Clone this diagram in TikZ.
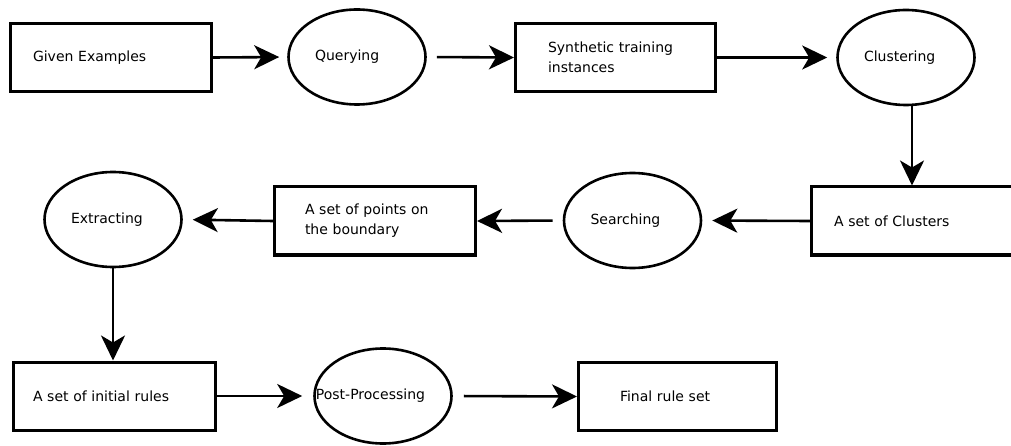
\documentclass[tikz,border=0pt]{standalone}
\usepackage{fontspec}
\setmainfont{DejaVu Sans}
\usetikzlibrary{shapes.geometric,arrows.meta}

\tikzset{
  procbox/.style={draw,rectangle,line width=3pt,minimum height=68pt,align=left,
    font=\fontsize{14}{20}\selectfont},
  stepell/.style={draw,ellipse,line width=2.6pt,minimum width=137pt,minimum height=95pt,
    inner sep=0pt,font=\fontsize{14}{20}\selectfont},
  flow/.style={-{Stealth[length=25pt,width=24pt,inset=7pt]},line width=2.6pt}
}

\begin{document}
\begin{tikzpicture}[x=1pt,y=-1pt]
        \useasboundingbox (0,0) rectangle (1011,446);
        % first row
        \node[procbox,inner xsep=22.5pt,text width=156pt] (given) at (111,57.5) {Given Examples};
        \node[stepell] (query) at (357,57) {\makebox[84pt][l]{Querying}};
        \node[procbox,inner xsep=32.5pt,text width=135pt] (synth) at (615.5,57.5) {Synthetic training\\instances};
        \node[stepell] (cluster) at (906,57.5) {\makebox[84pt][l]{Clustering}};
        % second row
        \node[procbox,inner xsep=22.5pt,text width=156pt] (clusters) at (912,221) {A set of Clusters};
        \node[stepell] (search) at (632.5,220.5) {\makebox[84pt][l]{Searching}};
        \node[procbox,inner xsep=30.5pt,text width=140pt] (points) at (375,221) {A set of points on\\the boundary};
        \node[stepell] (extract) at (113,219.5) {\makebox[84pt][l]{Extracting}};
        % third row
        \node[procbox,inner xsep=19.5pt,text width=163pt] (initial) at (114.5,396) {A set of initial rules};
        \node[stepell] (post) at (383,396) {\makebox[84pt][r]{Post-Processing}};
        \node[procbox,inner xsep=41.5pt,text width=115pt] (final) at (677.5,396.5) {Final rule set};
        % connectors
        \draw[flow,shorten >=8pt] (given.east) -- (query.west);
        \draw[flow,shorten <=10pt] (query.east) -- (synth.west);
        \draw[flow,shorten >=9pt] (synth.east) -- (cluster.west);
        \draw[flow] (cluster.south -| clusters.north) -- (clusters.north);
        \draw[flow,shorten >=10pt] (clusters.west) -- (search.east);
        \draw[flow,shorten <=10pt] (search.west) -- (points.east);
        \draw[flow,shorten >=10pt] (points.west) -- (extract.east);
        \draw[flow] (extract.south) -- (extract.south |- initial.north);
        \draw[flow,shorten >=11pt] (initial.east) -- (post.west);
        \draw[flow,shorten <=11pt] (post.east) -- (final.west);
      \end{tikzpicture}
\end{document}
